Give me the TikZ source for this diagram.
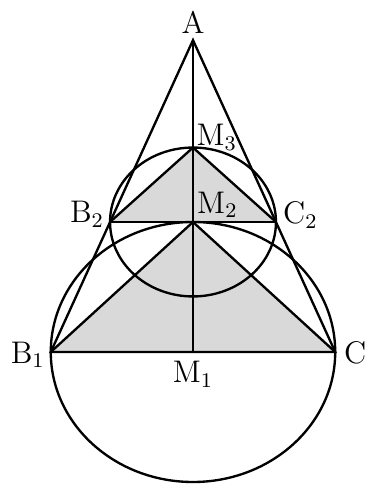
\documentclass[tikz,border=0pt]{standalone}
\usepackage{tikz}
\begin{document}
\begin{tikzpicture}[
  line width=0.9pt,
  font=\large,
  grayfill/.style={fill=black!15},
  lbl/.style={inner sep=0pt}
]
\useasboundingbox (-2.6055,-1.7955) rectangle (2.403,4.752);
% points
\coordinate (A) at (0,4.21);
\coordinate (B1) at (-1.92,0);
\coordinate (C) at (1.92,0);
\coordinate (M1) at (0,0);
\coordinate (M2) at (0,1.755);
\coordinate (B2) at (-1.12,1.755);
\coordinate (C2) at (1.12,1.755);
\coordinate (M3) at (0,2.76);

\fill[grayfill] (B1) -- (M2) -- (C) -- cycle;
\fill[grayfill] (B2) -- (M3) -- (C2) -- cycle;

\draw (M1) ellipse (1.92 and 1.755);
\draw (M2) ellipse (1.12 and 1.005);
\draw (A) -- (B1) -- (C) -- cycle;
\draw (A) -- (M1);
\draw (B2) -- (C2);
\draw (B1) -- (M2) -- (C);
\draw (B2) -- (M3) -- (C2);

% labels
\node[lbl] (lA) at (0,4.455) {A};
\node[lbl] (lM3) at (0.32,2.90) {M$_3$};
\node[lbl] (lM2) at (0.33,1.985) {M$_2$};
\node[lbl] (lB2) at (-1.43,1.86) {B$_2$};
\node[lbl] (lC2) at (1.45,1.85) {C$_2$};
\node[lbl] (lB1) at (-2.23,-0.04) {B$_1$};
\node[lbl] (lC) at (2.19,-0.01) {C};
\node[lbl] (lM1) at (0,-0.30) {M$_1$};
\end{tikzpicture}
\end{document}
